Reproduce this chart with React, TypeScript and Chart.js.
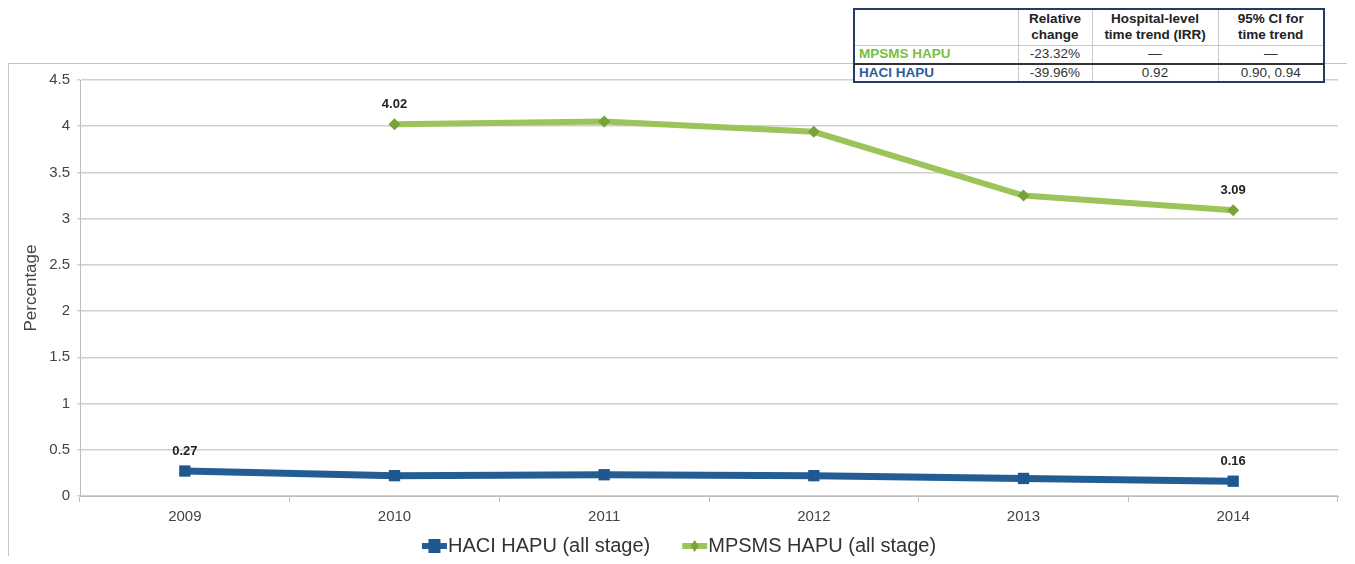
import React, { useEffect, useRef } from "react";
import { Chart, registerables } from "chart.js";

Chart.register(...registerables);

// Survey years on the category axis
const years = ["2009", "2010", "2011", "2012", "2013", "2014"];

// Hospital-acquired pressure ulcer rates (%), all stages
const haciHapu = [0.27, 0.22, 0.23, 0.22, 0.19, 0.16];
const mpsmsHapu = [null, 4.02, 4.05, 3.94, 3.25, 3.09];

// Value axis ticks
const yTicks = [0, 0.5, 1, 1.5, 2, 2.5, 3, 3.5, 4, 4.5];

// Series names
const haciLabel = "HACI HAPU (all stage)";
const mpsmsLabel = "MPSMS HAPU (all stage)";

// Summary table beside the chart
const tableHeader = ["", "Relative\nchange", "Hospital-level\ntime trend (IRR)", "95% CI for\ntime trend"];
const tableRowNames = ["MPSMS HAPU", "HACI HAPU"];
const relativeChange = ["-23.32%", "-39.96%"];
const timeTrendIrr = ["\u2014", "0.92"];
const timeTrendCi = ["\u2014", "0.90, 0.94"];

const BLUE = "#245d94";
const BLUE_MARK = "#1f5890";
const GREEN = "#9cc45a";
const GREEN_MARK = "#78a23a";
const FONT = "'Liberation Sans', Arial, Helvetica, sans-serif";

// Prints the value of the first and last point of each series above it
const endLabels = {
  id: "endLabels",
  afterDatasetsDraw(chart: any) {
    const ctx = chart.ctx;
    ctx.save();
    ctx.font = `bold 13px ${FONT}`;
    ctx.fillStyle = "#222";
    ctx.textAlign = "center";
    ctx.textBaseline = "middle";
    chart.data.datasets.forEach((ds: any, di: number) => {
      const meta = chart.getDatasetMeta(di);
      const idx: number[] = [];
      ds.data.forEach((v: any, i: number) => {
        if (v !== null && v !== undefined) idx.push(i);
      });
      if (!idx.length) return;
      [idx[0], idx[idx.length - 1]].forEach((i) => {
        const p = meta.data[i];
        ctx.fillText(Number(ds.data[i]).toFixed(2), p.x, p.y - 20);
      });
    });
    ctx.restore();
  },
};

// Legend drawn as a short thick line with the series marker on it
const lineLegend = {
  id: "lineLegend",
  afterDraw(chart: any) {
    const ctx = chart.ctx;
    ctx.save();
    ctx.font = `20px ${FONT}`;
    ctx.textBaseline = "middle";
    const y = 482;
    const swatch = 25;
    const gap = 32;
    const items = chart.data.datasets.map((ds: any) => ({
      text: ds.label,
      color: ds.borderColor,
      mark: ds.pointBackgroundColor,
      style: ds.pointStyle,
      w: swatch + 1 + ctx.measureText(ds.label).width,
    }));
    const total = items.reduce((s: number, it: any) => s + it.w, 0) + gap * (items.length - 1);
    let x = chart.width / 2 - total / 2;
    items.forEach((it: any) => {
      ctx.strokeStyle = it.color;
      ctx.lineWidth = 6;
      ctx.beginPath();
      ctx.moveTo(x, y);
      ctx.lineTo(x + swatch, y);
      ctx.stroke();
      ctx.fillStyle = it.mark;
      const cx = x + swatch / 2;
      if (it.style === "rect") {
        ctx.fillRect(cx - 6, y - 7, 12, 14);
      } else {
        ctx.beginPath();
        ctx.moveTo(cx, y - 6);
        ctx.lineTo(cx + 4, y);
        ctx.lineTo(cx, y + 6);
        ctx.lineTo(cx - 4, y);
        ctx.closePath();
        ctx.fill();
      }
      ctx.fillStyle = "#333";
      ctx.textAlign = "left";
      ctx.fillText(it.text, x + swatch + 1, y);
      x += it.w + gap;
    });
    ctx.restore();
  },
};

function SummaryTable() {
  const border = "1px solid #c9c9c9";
  const cell: React.CSSProperties = {
    borderLeft: border,
    textAlign: "center",
    padding: "0 4px",
    color: "#333",
    fontSize: 13.5,
    lineHeight: "16px",
  };
  const widths = [164, 74, 126, 106];
  const rowColors = ["#77bf3f", "#2c5d9b"];
  return (
    <table
      style={{
        position: "absolute",
        left: 845,
        top: 0,
        width: 470,
        borderCollapse: "collapse",
        border: "2px solid #1f3d66",
        background: "#fff",
        fontFamily: FONT,
        tableLayout: "fixed",
        zIndex: 2,
      }}
    >
      <colgroup>
        {widths.map((w, i) => (
          <col key={i} style={{ width: w }} />
        ))}
      </colgroup>
      <tbody>
        <tr style={{ height: 36, borderBottom: border }}>
          {tableHeader.map((h, i) => (
            <td
              key={i}
              style={{ ...cell, borderLeft: i === 0 ? "none" : border, fontWeight: "bold", color: "#222", whiteSpace: "pre-line" }}
            >
              {h}
            </td>
          ))}
        </tr>
        {tableRowNames.map((name, r) => (
          <tr key={name} style={{ height: r === 0 ? 19 : 17, borderBottom: r === 0 ? "2px solid #333" : "none" }}>
            <td style={{ ...cell, borderLeft: "none", textAlign: "left", fontWeight: "bold", color: rowColors[r] }}>{name}</td>
            <td style={cell}>{relativeChange[r]}</td>
            <td style={cell}>{timeTrendIrr[r]}</td>
            <td style={cell}>{timeTrendCi[r]}</td>
          </tr>
        ))}
      </tbody>
    </table>
  );
}

export default function App() {
  const canvasRef = useRef<HTMLCanvasElement | null>(null);

  useEffect(() => {
    if (!canvasRef.current) return;
    const chart = new Chart(canvasRef.current, {
      type: "line",
      data: {
        labels: years,
        datasets: [
          {
            label: haciLabel,
            data: haciHapu,
            borderColor: BLUE,
            backgroundColor: BLUE,
            borderWidth: 7,
            pointStyle: "rect",
            pointRadius: 8,
            pointBackgroundColor: BLUE_MARK,
            pointBorderColor: BLUE_MARK,
            pointBorderWidth: 0,
            tension: 0,
          },
          {
            label: mpsmsLabel,
            data: mpsmsHapu,
            borderColor: GREEN,
            backgroundColor: GREEN,
            borderWidth: 6,
            pointStyle: "rectRot",
            pointRadius: 6,
            pointBackgroundColor: GREEN_MARK,
            pointBorderColor: GREEN_MARK,
            pointBorderWidth: 0,
            tension: 0,
            spanGaps: false,
          },
        ],
      },
      options: {
        responsive: false,
        animation: false,
        layout: { padding: { left: 0, top: 13, right: 11, bottom: 38 } },
        plugins: {
          legend: { display: false },
          tooltip: { enabled: false },
        },
        scales: {
          x: {
            offset: true,
            grid: {
              offset: true,
              drawOnChartArea: false,
              drawTicks: true,
              tickLength: 6,
              color: "#bdbdbd",
            },
            border: { color: "#bdbdbd", width: 1 },
            ticks: {
              color: "#444",
              font: { family: FONT, size: 15 },
              padding: 6,
              maxRotation: 0,
            },
            afterFit(scale: any) {
              scale.height = 30;
            },
          },
          y: {
            min: 0,
            max: 4.5,
            afterBuildTicks(scale: any) {
              scale.ticks = yTicks.map((v) => ({ value: v }));
            },
            grid: {
              color: "#d0d0d0",
              lineWidth: 1.5,
              drawTicks: true,
              tickLength: 3,
            },
            border: { color: "#bdbdbd", width: 1 },
            ticks: {
              color: "#444",
              font: { family: FONT, size: 15 },
              padding: 7,
              callback: (v: any) => String(v),
            },
            title: {
              display: true,
              text: "Percentage",
              color: "#444",
              font: { family: FONT, size: 17 },
              padding: { top: 12, bottom: 0 },
            },
            afterFit(scale: any) {
              scale.width = 71;
            },
          },
        },
      },
      plugins: [endLabels, lineLegend],
    });
    return () => chart.destroy();
  }, []);

  return (
    <div style={{ position: "relative", width: 1339, height: 556, marginBottom: -8, overflow: "hidden" }}>
      <SummaryTable />
      <div
        style={{
          position: "absolute",
          left: 0,
          top: 55,
          width: 1340,
          height: 600,
          border: "1px solid #c4c4c4",
          background: "#fff",
        }}
      >
        <canvas ref={canvasRef} width={1340} height={500} style={{ display: "block" }} />
      </div>
    </div>
  );
}
